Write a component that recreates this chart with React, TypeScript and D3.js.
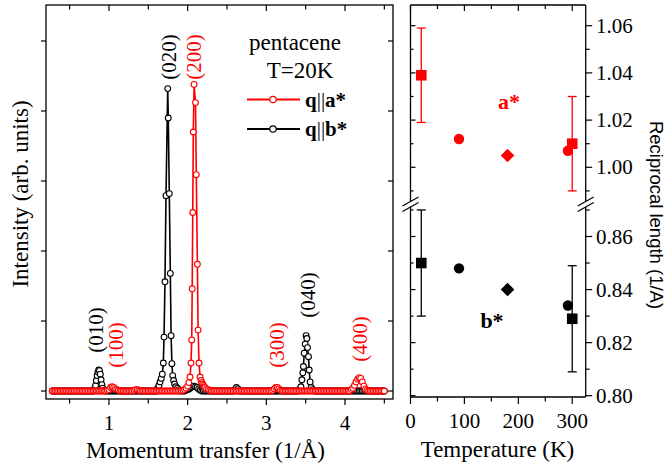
import React from "react";
import * as d3 from "d3";

// ---------------- Left panel data: momentum transfer (1/Å) vs intensity ----------------
const seriesA: [number, number][] = [
  [0.28,0],[0.30,0],[0.32,0],[0.34,0],[0.36,0],[0.38,0],[0.40,0],[0.42,0],[0.44,0],[0.46,0],
  [0.48,0],[0.50,0],[0.52,0],[0.54,0],[0.56,0],[0.58,0],[0.60,0],[0.62,0],[0.64,0],[0.66,0],
  [0.68,0],[0.70,0],[0.72,0],[0.74,0],[0.76,0],[0.78,0],[0.80,0],[0.82,0],[0.84,0],[0.86,0],
  [0.88,0],[0.90,0],[0.92,0],[0.94,0],[0.96,0],[0.98,0.01],[1.00,0.02],[1.02,0.05],[1.04,0.06],[1.06,0.05],
  [1.08,0.03],[1.10,0.02],[1.12,0.01],[1.14,0],[1.16,0],[1.18,0],[1.20,0],[1.22,0],[1.24,0],[1.26,0],
  [1.28,0],[1.30,0],[1.32,0.01],[1.34,0.02],[1.36,0.02],[1.38,0.01],[1.40,0],[1.42,0],[1.44,0],[1.46,0],
  [1.48,0],[1.50,0],[1.52,0],[1.54,0],[1.56,0],[1.58,0],[1.60,0],[1.62,0],[1.64,0],[1.66,0],
  [1.68,0],[1.70,0],[1.72,0],[1.74,0],[1.76,0],[1.78,0],[1.80,0],[1.82,0],[1.84,0],[1.86,0],
  [1.88,0],[1.90,0],[1.92,0],[1.94,0.01],[1.96,0.02],[1.98,0.04],[2.00,0.07],[2.015,0.12],[2.03,0.20],[2.043,0.40],
  [2.052,0.73],[2.058,1.46],[2.065,2.55],[2.072,3.70],[2.082,4.38],[2.100,4.12],[2.110,3.09],[2.124,1.81],[2.133,0.87],[2.145,0.40],
  [2.158,0.20],[2.17,0.15],[2.18,0.12],[2.19,0.10],[2.20,0.08],[2.21,0.06],[2.22,0.05],[2.24,0.03],[2.26,0.02],[2.28,0.01],
  [2.30,0],[2.32,0],[2.34,0],[2.36,0],[2.38,0],[2.40,0],[2.42,0],[2.44,0],[2.46,0],[2.48,0],
  [2.50,0],[2.52,0],[2.54,0],[2.56,0],[2.58,0],[2.60,0],[2.62,0],[2.64,0],[2.66,0],[2.68,0],
  [2.70,0],[2.72,0],[2.74,0],[2.76,0],[2.78,0],[2.80,0],[2.82,0],[2.84,0],[2.86,0],[2.88,0],
  [2.90,0],[2.92,0],[2.94,0],[2.96,0],[2.98,0],[3.00,0],[3.02,0],[3.04,0],[3.06,0],[3.08,0.01],
  [3.10,0.03],[3.12,0.05],[3.14,0.05],[3.16,0.03],[3.18,0.01],[3.20,0],[3.22,0],[3.24,0],[3.26,0],[3.28,0],
  [3.30,0],[3.32,0],[3.34,0],[3.36,0],[3.38,0],[3.40,0],[3.42,0],[3.44,0],[3.46,0],[3.48,0],
  [3.50,0],[3.52,0],[3.54,0],[3.56,0],[3.58,0],[3.60,0],[3.62,0],[3.64,0],[3.66,0],[3.68,0],
  [3.70,0],[3.72,0],[3.74,0],[3.76,0],[3.78,0],[3.80,0],[3.82,0],[3.84,0],[3.86,0],[3.88,0],
  [3.90,0],[3.92,0],[3.94,0],[3.96,0],[3.98,0],[4.00,0],[4.02,0],[4.04,0],[4.06,0],[4.08,0.02],
  [4.10,0.04],[4.12,0.08],[4.14,0.13],[4.16,0.17],[4.18,0.19],[4.20,0.18],[4.22,0.13],[4.24,0.07],[4.26,0.03],[4.28,0.01],
  [4.30,0],[4.32,0],[4.34,0],[4.36,0],[4.38,0],[4.40,0],[4.42,0],[4.44,0],[4.46,0],[4.48,0],[4.50,0],
];

const seriesB: [number, number][] = [
  [0.28,0],[0.30,0],[0.32,0],[0.34,0],[0.36,0],[0.38,0],[0.40,0],[0.42,0],[0.44,0],[0.46,0],
  [0.48,0],[0.50,0],[0.52,0],[0.54,0],[0.56,0],[0.58,0],[0.60,0],[0.62,0],[0.64,0],[0.66,0],
  [0.68,0],[0.70,0],[0.72,0],[0.74,0],[0.76,0],[0.78,0],[0.80,0],[0.82,0.04],[0.83,0.08],[0.84,0.15],
  [0.85,0.22],[0.86,0.27],[0.87,0.30],[0.88,0.29],[0.89,0.24],[0.90,0.16],[0.91,0.09],[0.92,0.04],[0.94,0.01],[0.96,0],
  [0.98,0],[1.00,0],[1.02,0],[1.04,0],[1.06,0],[1.08,0],[1.10,0],[1.12,0],[1.14,0],[1.16,0],
  [1.18,0],[1.20,0],[1.22,0],[1.24,0],[1.26,0],[1.28,0],[1.30,0],[1.32,0],[1.34,0],[1.36,0],
  [1.38,0],[1.40,0],[1.42,0],[1.44,0],[1.46,0],[1.48,0],[1.50,0],[1.52,0],[1.54,0],[1.56,0],
  [1.58,0],[1.60,0],[1.62,0.04],[1.635,0.08],[1.649,0.13],[1.665,0.18],[1.678,0.24],[1.691,0.40],[1.700,0.77],[1.712,1.56],
  [1.725,2.79],[1.747,4.32],[1.754,3.90],[1.767,2.82],[1.780,1.68],[1.790,0.79],[1.800,0.39],[1.810,0.22],[1.822,0.15],[1.835,0.10],
  [1.85,0.06],[1.87,0.04],[1.89,0.02],[1.92,0],[1.94,0],[1.96,0],[1.98,0.01],[2.00,0.02],[2.02,0.03],[2.04,0.05],
  [2.06,0.06],[2.08,0.07],[2.10,0.06],[2.12,0.05],[2.14,0.03],[2.16,0.01],[2.18,0],[2.20,0],[2.22,0],[2.24,0],
  [2.26,0],[2.28,0],[2.30,0],[2.32,0],[2.34,0],[2.36,0],[2.38,0],[2.40,0],[2.42,0],[2.44,0],
  [2.46,0],[2.48,0],[2.50,0],[2.52,0],[2.54,0],[2.56,0],[2.58,0],[2.60,0.02],[2.62,0.05],[2.64,0.03],
  [2.66,0],[2.68,0],[2.70,0],[2.72,0],[2.74,0],[2.76,0],[2.78,0],[2.80,0],[2.82,0],[2.84,0],
  [2.86,0],[2.88,0],[2.90,0],[2.92,0],[2.94,0],[2.96,0],[2.98,0],[3.00,0],[3.02,0],[3.04,0],
  [3.06,0],[3.08,0],[3.10,0],[3.12,0],[3.14,0],[3.16,0],[3.18,0],[3.20,0],[3.22,0],[3.24,0],
  [3.26,0],[3.28,0],[3.30,0],[3.32,0],[3.34,0],[3.36,0],[3.38,0],[3.40,0],[3.42,0.02],[3.44,0.06],
  [3.452,0.16],[3.464,0.26],[3.472,0.35],[3.481,0.54],[3.494,0.67],[3.506,0.79],[3.515,0.75],[3.524,0.62],[3.536,0.49],[3.545,0.30],
  [3.557,0.13],[3.57,0.05],[3.59,0.02],[3.62,0],[3.64,0],[3.66,0],[3.68,0],[3.70,0],[3.72,0],[3.74,0],
  [3.76,0],[3.78,0],[3.80,0],[3.82,0],[3.84,0],[3.86,0],[3.88,0],[3.90,0],[3.92,0],[3.94,0],
  [3.96,0],[3.98,0],[4.00,0],[4.02,0],[4.04,0],[4.06,0],[4.08,0],[4.10,0],[4.12,0],[4.14,0],
  [4.16,0],[4.18,0],[4.20,0],[4.22,0],[4.24,0],[4.26,0],[4.28,0],[4.30,0],[4.32,0],[4.34,0],
  [4.36,0],[4.38,0],[4.40,0],[4.42,0],[4.44,0],[4.46,0],[4.48,0],[4.50,0],
];

const peakLabelText = ["(010)", "(100)", "(020)", "(200)", "(300)", "(040)", "(400)"];
const peakLabelQ = [0.835, 1.089, 1.757, 2.081, 3.137, 3.532, 4.193];
const peakLabelI = [0.87, 0.657, 4.771, 4.771, 0.657, 1.371, 0.743];
const peakLabelSeries = ["b", "a", "b", "a", "a", "b", "a"];

const qTicksMajor = [1, 2, 3, 4];
const qTicksMinor = [0.5, 1.5, 2.5, 3.5, 4.5];
const intensityTicks = [0, 1, 2, 3, 4, 5];

// ---------------- Right panel data: temperature (K) vs reciprocal length (1/A) ----------------
const tempSquare = [20, 300];
const aSquare = [1.039, 1.010];
const bSquare = [0.850, 0.829];
const squareErr = [0.02, 0.02];
const tempCircle = [90, 292];
const aCircle = [1.012, 1.007];
const bCircle = [0.848, 0.834];
const tempDiamond = [180];
const aDiamond = [1.005];
const bDiamond = [0.840];

const tempTicksMajor = [0, 100, 200, 300];
const tempTicksMinor = [50, 150, 250];
const upperTicks = [1.0, 1.02, 1.04, 1.06];
const upperMinor = [0.99, 1.01, 1.03, 1.05];
const lowerTicks = [0.8, 0.82, 0.84, 0.86];
const lowerMinor = [0.81, 0.83, 0.85, 0.87];

const RED = "#ff0000";
const SERIF = "'Liberation Serif', 'Times New Roman', serif";
const SANS = "'Liberation Sans', Arial, sans-serif";

export default function App() {
  // left panel scales
  const xL = d3.scaleLinear().domain([0.2, 4.61]).range([46, 393]);
  const yL = d3.scaleLinear().domain([-0.114, 5.514]).range([399, 5]);
  const line = d3
    .line<[number, number]>()
    .x((d) => xL(d[0]))
    .y((d) => yL(d[1]));

  // right panel scales
  const xR = d3.scaleLinear().domain([0, 325]).range([410.5, 585.7]);
  const yU = d3.scaleLinear().domain([1.0, 1.06]).range([167.3, 25.7]);
  const yD = d3.scaleLinear().domain([0.8, 0.86]).range([395.7, 236.5]);
  const upTop = 5, upBot = 201.5, dnTop = 207, dnBot = 397;
  const rL = 410.5, rR = 585.7;
  const clampU = (v: number) => Math.max(upTop, Math.min(upBot, v));
  const clampD = (v: number) => Math.max(dnTop, Math.min(dnBot, v));

  const frameW = 1.3;

  const renderPoints = (series: [number, number][], color: string) => (
    <g>
      <path d={line(series) || ""} fill="none" stroke={color} strokeWidth={1.6} />
      {series.map((d, i) => (
        <circle key={i} cx={xL(d[0])} cy={yL(d[1])} r={2.9} fill="#fff" stroke={color} strokeWidth={1.1} />
      ))}
    </g>
  );

  const renderRight = (
    color: string,
    sq: number[],
    ci: number[],
    di: number[],
    y: (v: number) => number,
    clamp: (v: number) => number
  ) => (
    <g>
      {tempSquare.map((t, i) => {
        const cx = xR(t);
        const raw1 = y(sq[i] + squareErr[i]);
        const y1 = clamp(raw1);
        const y2 = clamp(y(sq[i] - squareErr[i]));
        const topCap = y1 === raw1;
        return (
          <g key={"e" + i}>
            <line x1={cx} x2={cx} y1={y1} y2={y2} stroke={color} strokeWidth={1.3} />
            {topCap && <line x1={cx - 4.5} x2={cx + 4.5} y1={y1} y2={y1} stroke={color} strokeWidth={1.3} />}
            <line x1={cx - 4.5} x2={cx + 4.5} y1={y2} y2={y2} stroke={color} strokeWidth={1.3} />
            <rect x={cx - 5.3} y={y(sq[i]) - 5.3} width={10.6} height={10.6} fill={color} />
          </g>
        );
      })}
      {tempCircle.map((t, i) => (
        <circle key={"c" + i} cx={xR(t)} cy={y(ci[i])} r={5.2} fill={color} />
      ))}
      {tempDiamond.map((t, i) => {
        const cx = xR(t), cy = y(di[i]);
        const s = 6.8;
        return <path key={"d" + i} d={`M${cx},${cy - s}L${cx + s},${cy}L${cx},${cy + s}L${cx - s},${cy}Z`} fill={color} />;
      })}
    </g>
  );

  return (
    <svg width={668} height={463} style={{ display: "block", position: "absolute", left: 0, top: 0, background: "#fff" }}>
      <rect width={668} height={463} fill="#fff" />

      {/* ---------- LEFT PANEL ---------- */}
      {renderPoints(seriesB, "#000")}
      {renderPoints(seriesA, RED)}

      {/* frame */}
      <rect x={46} y={5} width={393 - 46} height={399 - 5} fill="none" stroke="#000" strokeWidth={frameW} />

      {/* x ticks */}
      {qTicksMajor.map((q) => (
        <g key={"qM" + q}>
          <line x1={xL(q)} x2={xL(q)} y1={399} y2={405} stroke="#000" strokeWidth={1.2} />
          <line x1={xL(q)} x2={xL(q)} y1={5} y2={11} stroke="#000" strokeWidth={1.2} />
          <text x={xL(q)} y={430} textAnchor="middle" fontFamily={SERIF} fontSize={21}>{q}</text>
        </g>
      ))}
      {qTicksMinor.map((q) => (
        <g key={"qm" + q}>
          <line x1={xL(q)} x2={xL(q)} y1={399} y2={403.5} stroke="#000" strokeWidth={1.2} />
          <line x1={xL(q)} x2={xL(q)} y1={5} y2={9.5} stroke="#000" strokeWidth={1.2} />
        </g>
      ))}
      {/* y ticks */}
      {intensityTicks.map((v) => (
        <g key={"iy" + v}>
          <line x1={41} x2={46} y1={yL(v)} y2={yL(v)} stroke="#000" strokeWidth={1.2} />
          <line x1={388} x2={393} y1={yL(v)} y2={yL(v)} stroke="#000" strokeWidth={1.2} />
        </g>
      ))}

      {/* peak labels */}
      {peakLabelText.map((t, i) => (
        <text
          key={"pl" + i}
          transform={`translate(${xL(peakLabelQ[i])},${yL(peakLabelI[i])}) rotate(-90)`}
          textAnchor="middle"
          dominantBaseline="central"
          fontFamily={SERIF}
          fontSize={21}
          fill={peakLabelSeries[i] === "a" ? RED : "#000"}
        >
          {t}
        </text>
      ))}

      {/* legend */}
      <text x={295} y={50} textAnchor="middle" fontFamily={SERIF} fontSize={23}>pentacene</text>
      <text x={300} y={78} textAnchor="middle" fontFamily={SERIF} fontSize={23}>T=20K</text>
      <line x1={247} x2={300} y1={99.5} y2={99.5} stroke={RED} strokeWidth={1.8} />
      <circle cx={273} cy={99.5} r={3.2} fill="#fff" stroke={RED} strokeWidth={1.2} />
      <text x={305} y={106.5} fontFamily={SERIF} fontSize={21} fontWeight="bold">
        q<tspan fontWeight="normal">||</tspan>a*
      </text>
      <line x1={247} x2={300} y1={129} y2={129} stroke="#000" strokeWidth={1.8} />
      <circle cx={273} cy={129} r={3.2} fill="#fff" stroke="#000" strokeWidth={1.2} />
      <text x={305} y={136} fontFamily={SERIF} fontSize={21} fontWeight="bold">
        q<tspan fontWeight="normal">||</tspan>b*
      </text>

      {/* axis titles */}
      <text x={205.5} y={458} textAnchor="middle" fontFamily={SERIF} fontSize={23}>Momentum transfer (1/Å)</text>
      <text transform="translate(28,194) rotate(-90)" textAnchor="middle" fontFamily={SERIF} fontSize={23}>
        Intensity (arb. units)
      </text>

      {/* ---------- RIGHT PANEL ---------- */}
      {renderRight(RED, aSquare, aCircle, aDiamond, yU, clampU)}
      {renderRight("#000", bSquare, bCircle, bDiamond, yD, clampD)}

      {/* frame */}
      <line x1={rL} x2={rR} y1={upTop} y2={upTop} stroke="#000" strokeWidth={frameW} />
      <line x1={rL} x2={rR} y1={dnBot} y2={dnBot} stroke="#000" strokeWidth={frameW} />
      {[rL, rR].map((x) => (
        <g key={"ax" + x}>
          <line x1={x} x2={x} y1={upTop} y2={upBot} stroke="#000" strokeWidth={frameW} />
          <line x1={x} x2={x} y1={dnTop} y2={dnBot} stroke="#000" strokeWidth={frameW} />
          <line x1={x - 8} x2={x + 8} y1={upBot + 4.5} y2={upBot - 4.5} stroke="#000" strokeWidth={1.2} />
          <line x1={x - 8} x2={x + 8} y1={dnTop + 4.5} y2={dnTop - 4.5} stroke="#000" strokeWidth={1.2} />
        </g>
      ))}

      {/* x ticks */}
      {tempTicksMajor.map((t) => (
        <g key={"tM" + t}>
          <line x1={xR(t)} x2={xR(t)} y1={dnBot} y2={dnBot + 7} stroke="#000" strokeWidth={1.2} />
          <line x1={xR(t)} x2={xR(t)} y1={upTop} y2={upTop + 6} stroke="#000" strokeWidth={1.2} />
          <text x={xR(t)} y={428} textAnchor="middle" fontFamily={SERIF} fontSize={21}>{t}</text>
        </g>
      ))}
      {tempTicksMinor.map((t) => (
        <g key={"tm" + t}>
          <line x1={xR(t)} x2={xR(t)} y1={dnBot} y2={dnBot + 4.5} stroke="#000" strokeWidth={1.2} />
          <line x1={xR(t)} x2={xR(t)} y1={upTop} y2={upTop + 4} stroke="#000" strokeWidth={1.2} />
        </g>
      ))}

      {/* y ticks upper */}
      {upperTicks.map((v) => (
        <g key={"uM" + v}>
          <line x1={rR} x2={rR + 6.5} y1={yU(v)} y2={yU(v)} stroke="#000" strokeWidth={1.2} />
          <line x1={rL} x2={rL + 5} y1={yU(v)} y2={yU(v)} stroke="#000" strokeWidth={1.2} />
          <text x={596} y={yU(v)} dominantBaseline="central" fontFamily={SERIF} fontSize={21}>{v.toFixed(2)}</text>
        </g>
      ))}
      {upperMinor.filter((v) => yU(v) > upTop && yU(v) < upBot).map((v) => (
        <g key={"um" + v}>
          <line x1={rR} x2={rR + 4} y1={yU(v)} y2={yU(v)} stroke="#000" strokeWidth={1.2} />
          <line x1={rL} x2={rL + 3} y1={yU(v)} y2={yU(v)} stroke="#000" strokeWidth={1.2} />
        </g>
      ))}
      {/* y ticks lower */}
      {lowerTicks.map((v) => (
        <g key={"lM" + v}>
          <line x1={rR} x2={rR + 6.5} y1={yD(v)} y2={yD(v)} stroke="#000" strokeWidth={1.2} />
          <line x1={rL} x2={rL + 5} y1={yD(v)} y2={yD(v)} stroke="#000" strokeWidth={1.2} />
          <text x={596} y={yD(v)} dominantBaseline="central" fontFamily={SERIF} fontSize={21}>{v.toFixed(2)}</text>
        </g>
      ))}
      {lowerMinor.filter((v) => yD(v) > dnTop && yD(v) < dnBot).map((v) => (
        <g key={"lm" + v}>
          <line x1={rR} x2={rR + 4} y1={yD(v)} y2={yD(v)} stroke="#000" strokeWidth={1.2} />
          <line x1={rL} x2={rL + 3} y1={yD(v)} y2={yD(v)} stroke="#000" strokeWidth={1.2} />
        </g>
      ))}

      {/* series labels */}
      <text x={509} y={109} textAnchor="middle" fontFamily={SERIF} fontSize={22} fontWeight="bold" fill={RED}>a*</text>
      <text x={492} y={328} textAnchor="middle" fontFamily={SERIF} fontSize={22} fontWeight="bold">b*</text>

      {/* axis titles */}
      <text x={497.5} y={457} textAnchor="middle" fontFamily={SERIF} fontSize={23}>Temperature (K)</text>
      <text transform="translate(650,215) rotate(90)" textAnchor="middle" fontFamily={SANS} fontSize={18.5}>
        Reciprocal length (1/A)
      </text>
    </svg>
  );
}
